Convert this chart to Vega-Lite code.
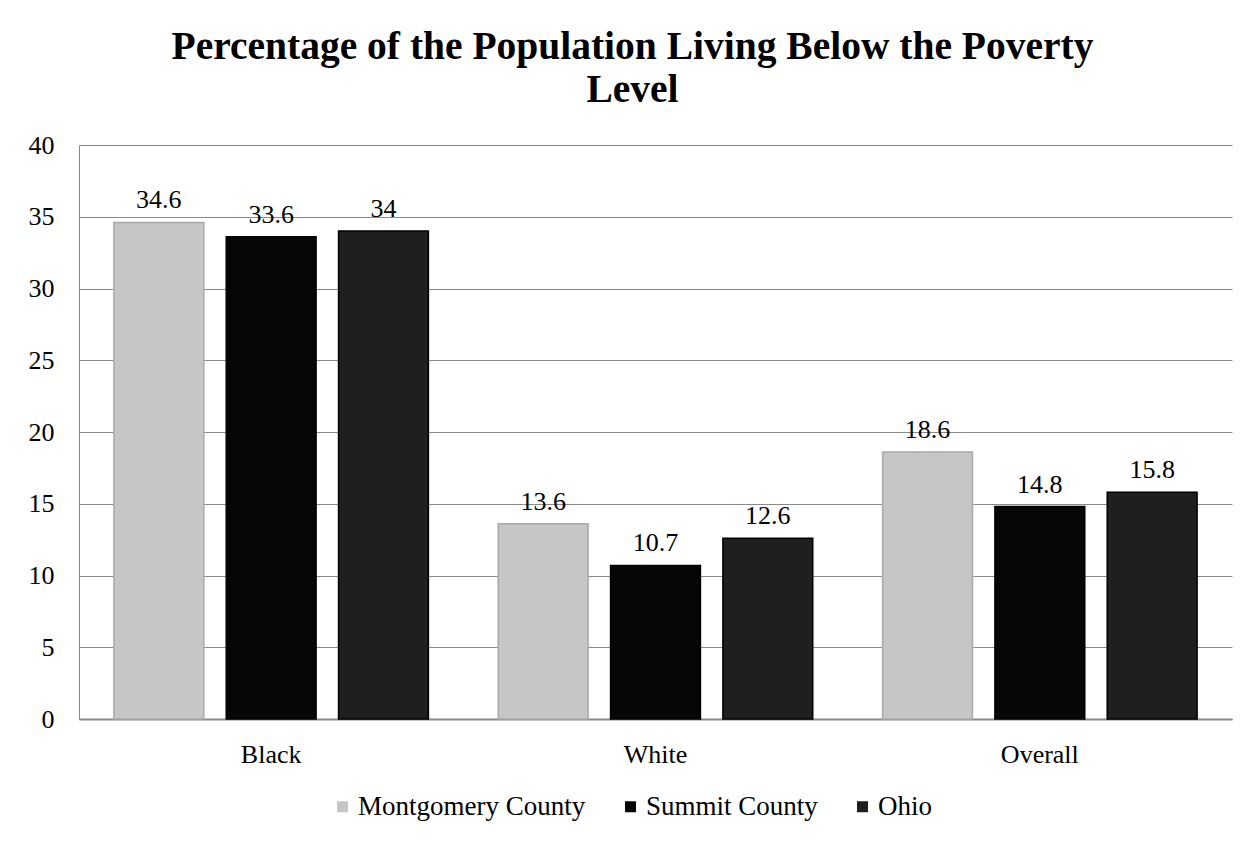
{
  "$schema": "https://vega.github.io/schema/vega-lite/v6.json",
  "width": 1153,
  "height": 574,
  "autosize": {"type": "none"},
  "padding": {"left": 79, "top": 145, "right": 27, "bottom": 126},
  "background": "white",
  "config": {"view": {"stroke": null}},
  "title": {
    "text": ["Percentage of the Population Living Below the Poverty", "Level"],
    "font": "Liberation Serif",
    "fontSize": 39.5,
    "fontWeight": "bold",
    "color": "#000000",
    "anchor": "middle",
    "dx": -23,
    "offset": 22,
    "lineHeight": 43
  },
  "data": {
    "values": [
      {"group": "Black", "series": "Montgomery County", "value": 34.6},
      {"group": "Black", "series": "Summit County", "value": 33.6},
      {"group": "Black", "series": "Ohio", "value": 34},
      {"group": "White", "series": "Montgomery County", "value": 13.6},
      {"group": "White", "series": "Summit County", "value": 10.7},
      {"group": "White", "series": "Ohio", "value": 12.6},
      {"group": "Overall", "series": "Montgomery County", "value": 18.6},
      {"group": "Overall", "series": "Summit County", "value": 14.8},
      {"group": "Overall", "series": "Ohio", "value": 15.8}
    ]
  },
  "encoding": {
    "x": {
      "field": "group",
      "type": "nominal",
      "sort": ["Black", "White", "Overall"],
      "scale": {"paddingInner": 0, "paddingOuter": 0},
      "axis": {
        "title": null,
        "labelAngle": 0,
        "labelFont": "Liberation Serif",
        "labelFontSize": 26,
        "labelColor": "#000000",
        "labelPadding": 22,
        "ticks": false,
        "domainColor": "#8a8a8a",
        "domainWidth": 2
      }
    },
    "xOffset": {
      "field": "series",
      "type": "nominal",
      "sort": ["Montgomery County", "Summit County", "Ohio"],
      "scale": {"paddingInner": 0.2, "paddingOuter": 0.311}
    },
    "y": {
      "field": "value",
      "type": "quantitative",
      "scale": {"domain": [0, 40]},
      "axis": {
        "title": null,
        "values": [0, 5, 10, 15, 20, 25, 30, 35, 40],
        "labelFont": "Liberation Serif",
        "labelFontSize": 26,
        "labelColor": "#000000",
        "labelPadding": 25,
        "ticks": false,
        "grid": true,
        "gridColor": "#8a8a8a",
        "gridWidth": 1,
        "domainColor": "#8a8a8a",
        "domainWidth": 1
      }
    }
  },
  "layer": [
    {
      "mark": {"type": "bar", "strokeWidth": 1.5},
      "encoding": {
        "color": {
          "field": "series",
          "type": "nominal",
          "sort": ["Montgomery County", "Summit County", "Ohio"],
          "scale": {
            "domain": ["Montgomery County", "Summit County", "Ohio"],
            "range": ["#c6c6c6", "#060606", "#1f1f1f"]
          },
          "legend": {
            "title": null,
            "orient": "none",
            "legendX": 250,
            "legendY": 648,
            "padding": 0,
            "direction": "horizontal",
            "symbolType": "square",
            "symbolSize": 121,
            "symbolStrokeWidth": 0,
            "labelFont": "Liberation Serif",
            "labelFontSize": 27,
            "labelColor": "#000000",
            "labelOffset": 2,
            "labelLimit": 0,
            "columnPadding": 31
          }
        },
        "stroke": {
          "field": "series",
          "type": "nominal",
          "scale": {
            "domain": ["Montgomery County", "Summit County", "Ohio"],
            "range": ["#a9a9a9", "#000000", "#000000"]
          },
          "legend": null
        }
      }
    },
    {
      "mark": {
        "type": "text",
        "baseline": "alphabetic",
        "dy": -14,
        "font": "Liberation Serif",
        "fontSize": 26,
        "color": "#000000"
      },
      "encoding": {
        "text": {"field": "value", "type": "quantitative"}
      }
    }
  ]
}
